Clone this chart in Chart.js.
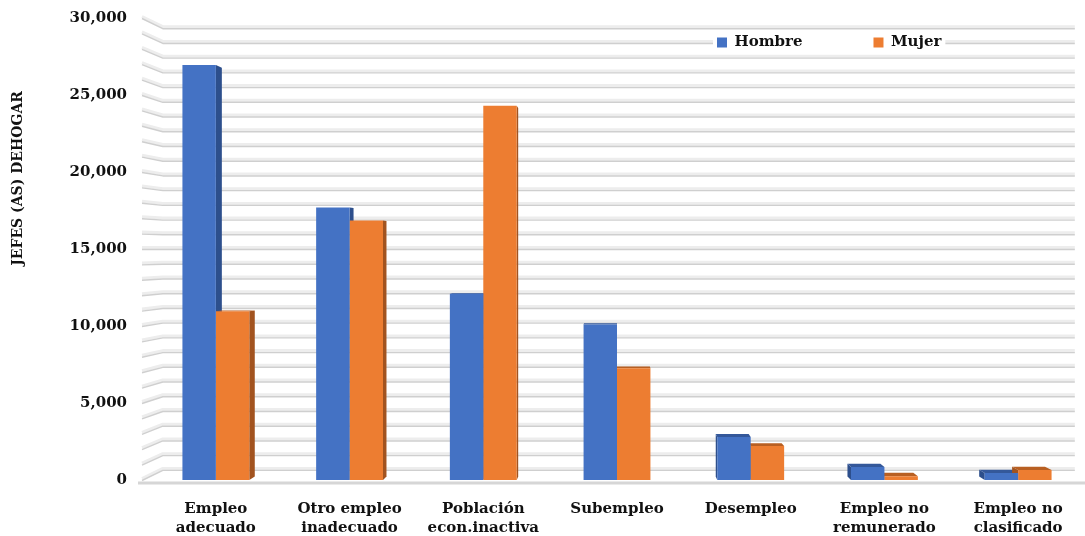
<!DOCTYPE html>
<html>
<head>
<meta charset="utf-8">
<script src="https://cdn.jsdelivr.net/npm/chart.js@4.4.1/dist/chart.umd.min.js"></script>
<style>
  html, body { margin: 0; padding: 0; background: #fff; }
  #wrap { width: 1085px; height: 536px; }
</style>
</head>
<body>
<div id="wrap"><canvas id="chart"></canvas></div>
<script>
// values
const categories = [
  ["Empleo", "adecuado"],
  ["Otro empleo", "inadecuado"],
  ["Población", "econ.inactiva"],
  "Subempleo",
  "Desempleo",
  ["Empleo no", "remunerado"],
  ["Empleo no", "clasificado"]
];
const hombre = [26950, 17700, 12100, 10100, 2800, 850, 450];
const mujer = [10950, 16850, 24300, 7250, 2200, 250, 650];
const yTicks = [0, 5000, 10000, 15000, 20000, 25000, 30000];
const gridStep = 1000;

const seriesNames = ["Hombre", "Mujer"];
const frontColors = ["#4472C4", "#ED7D31"];
const sideColors = ["#2D4F8C", "#A2531F"];
const topColors = ["#34589A", "#B85F22"];

// fake 3D look: everything deeper is pulled toward a vanishing point
const VP = { x: 615, y: 250 };
const WALL_DEPTH = 0.044;
const BAR_DEPTH = 0.015;
const WALL_LEFT = 142;
const WALL_RIGHT = 1096;
const LEGEND_X = 717;
const LEGEND_Y = 35;

const font = { family: "'DejaVu Serif', serif", weight: "bold", size: 15 };

function project(x, y, d) {
  return [x + (VP.x - x) * d, y + (VP.y - y) * d];
}

function quad(ctx, pts) {
  ctx.beginPath();
  ctx.moveTo(pts[0][0], pts[0][1]);
  for (let i = 1; i < pts.length; i++) ctx.lineTo(pts[i][0], pts[i][1]);
  ctx.closePath();
  ctx.fill();
}

function noScalePadding(scale) {
  scale.paddingLeft = 0;
  scale.paddingRight = 0;
  scale.paddingTop = 0;
  scale.paddingBottom = 0;
}

const wallPlugin = {
  id: "wall",
  beforeLayout(chart) {
    // legend sits inside the plot but keeps a single row
    chart.legend.isHorizontal = () => true;
  },
  afterLayout(chart) {
    // move the legend to its spot inside the plot
    const lg = chart.legend;
    const pad = lg.options.labels.padding;
    lg.left = LEGEND_X - pad;
    lg.top = LEGEND_Y - pad;
    lg.right = chart.width;
    lg.bottom = chart.height;
  },
  beforeDraw(chart) {
    const ctx = chart.ctx;
    const ys = chart.scales.y;
    ctx.save();
    for (let v = ys.min; v <= ys.max; v += gridStep) {
      const y = ys.getPixelForValue(v);
      const a = project(WALL_LEFT, y, WALL_DEPTH);
      const b = project(WALL_RIGHT, y, WALL_DEPTH);
      ctx.lineJoin = "round";
      ctx.strokeStyle = "#ededed";
      ctx.lineWidth = 3;
      ctx.beginPath();
      ctx.moveTo(WALL_LEFT, y - 1.5);
      ctx.lineTo(a[0], a[1] - 1.5);
      ctx.lineTo(b[0], b[1] - 1.5);
      ctx.stroke();
      ctx.strokeStyle = "#cfcfcf";
      ctx.lineWidth = 1.4;
      ctx.beginPath();
      ctx.moveTo(WALL_LEFT, y + 0.5);
      ctx.lineTo(a[0], a[1] + 0.5);
      ctx.lineTo(b[0], b[1] + 0.5);
      ctx.stroke();
    }
    // floor front edge
    const y0 = ys.getPixelForValue(0);
    ctx.strokeStyle = "#d6d6d6";
    ctx.lineWidth = 3;
    ctx.beginPath();
    ctx.moveTo(WALL_LEFT - 4, y0 + 3);
    ctx.lineTo(chart.width, y0 + 3);
    ctx.stroke();
    // white box behind the legend
    const lg = chart.legend;
    const lab = lg.options.labels;
    ctx.font = Chart.helpers.toFont(lab.font).string;
    let w = 0;
    (lg.legendItems || []).forEach((it, k) => {
      if (k > 0) w += lab.padding;
      w += lab.boxWidth + lab.font.size / 2 + ctx.measureText(it.text).width;
    });
    ctx.fillStyle = "#fff";
    ctx.fillRect(LEGEND_X - 4, LEGEND_Y - 3, w + 8, 21);
    ctx.restore();
  },
  beforeDatasetsDraw(chart) {
    const ctx = chart.ctx;
    ctx.save();
    chart.data.datasets.forEach((ds, i) => {
      const meta = chart.getDatasetMeta(i);
      meta.data.forEach(bar => {
        const p = bar.getProps(["x", "y", "base", "width"], true);
        const l = p.x - p.width / 2;
        const r = p.x + p.width / 2;
        ctx.fillStyle = sideColors[i];
        if (r < VP.x) {
          quad(ctx, [[r, p.y], project(r, p.y, BAR_DEPTH), project(r, p.base, BAR_DEPTH), [r, p.base]]);
        }
        if (l > VP.x) {
          quad(ctx, [[l, p.y], project(l, p.y, BAR_DEPTH), project(l, p.base, BAR_DEPTH), [l, p.base]]);
        }
        if (p.y > VP.y) {
          ctx.fillStyle = topColors[i];
          quad(ctx, [[l, p.y], [r, p.y], project(r, p.y, BAR_DEPTH), project(l, p.y, BAR_DEPTH)]);
        }
      });
    });
    ctx.restore();
  }
};

const ctx = document.getElementById("chart").getContext("2d");
new Chart(ctx, {
  type: "bar",
  data: {
    labels: categories,
    datasets: [
      { label: seriesNames[0], data: hombre, backgroundColor: frontColors[0] },
      { label: seriesNames[1], data: mujer, backgroundColor: frontColors[1] }
    ]
  },
  options: {
    responsive: true,
    maintainAspectRatio: false,
    animation: false,
    locale: "en-US",
    layout: { padding: { top: 18, right: -3, left: 0, bottom: 0 } },
    datasets: {
      bar: { categoryPercentage: 0.5, barPercentage: 1.0 }
    },
    plugins: {
      legend: {
        position: "chartArea",
        align: "start",
        labels: {
          boxWidth: 10,
          boxHeight: 10,
          padding: 71,
          color: "#111",
          font: font
        }
      },
      tooltip: { enabled: false }
    },
    scales: {
      x: {
        grid: { display: false, drawTicks: false },
        border: { display: false },
        ticks: { color: "#111", font: { ...font, lineHeight: 1.3 }, padding: 19, maxRotation: 0, autoSkip: false },
        afterFit(scale) { scale.height = 56; noScalePadding(scale); }
      },
      y: {
        min: 0,
        max: 30000,
        afterBuildTicks(scale) { scale.ticks = yTicks.map(v => ({ value: v })); },
        grid: { display: false, drawTicks: false },
        border: { display: false },
        ticks: {
          color: "#111",
          font: font,
          padding: 22,
          callback: v => v.toLocaleString("en-US")
        },
        title: {
          display: true,
          text: "JEFES (AS) DEHOGAR" + "\u00a0".repeat(15),
          align: "end",
          color: "#111",
          font: { ...font, size: 14 },
          padding: { top: 10, bottom: 0 }
        },
        afterFit(scale) { scale.width = 149; noScalePadding(scale); }
      }
    }
  },
  plugins: [wallPlugin]
});
</script>
</body>
</html>
